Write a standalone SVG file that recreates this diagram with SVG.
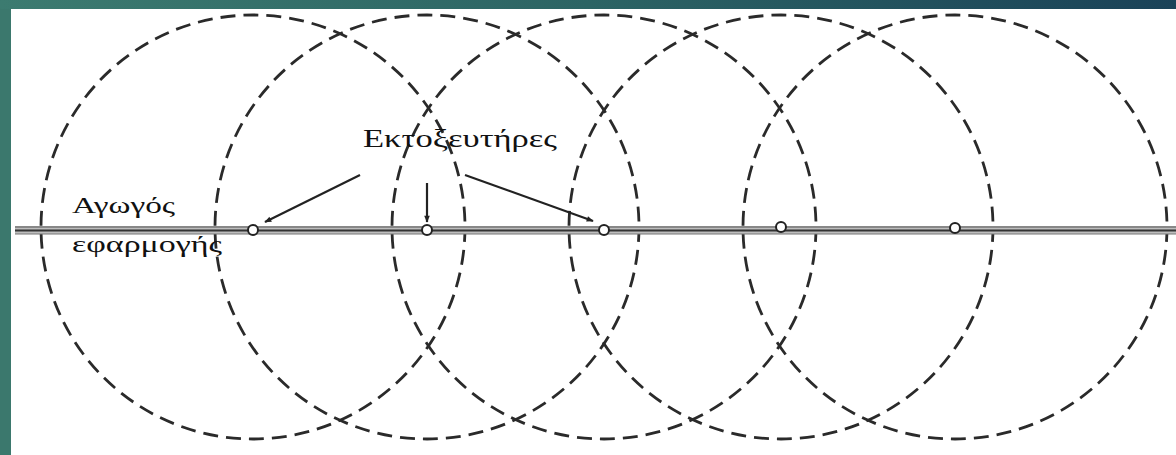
<svg xmlns="http://www.w3.org/2000/svg" width="1176" height="455" viewBox="0 0 1176 455">
<defs>
<linearGradient id="topg" x1="0" y1="0" x2="1" y2="0">
<stop offset="0" stop-color="#3c7b70"/>
<stop offset="0.5" stop-color="#2c6464"/>
<stop offset="1" stop-color="#1a4258"/>
</linearGradient>
<marker id="ah" viewBox="0 0 10 10" refX="9" refY="5" markerWidth="8" markerHeight="7" orient="auto" markerUnits="userSpaceOnUse">
<path d="M0,1 L10,5 L0,9 Z" fill="#222"/>
</marker>
<style>
.zone{fill:none;stroke:#2a2a2a;stroke-width:2.8;stroke-dasharray:15 8}
.noz{fill:#fff;stroke:#222;stroke-width:2}
.arr{stroke:#222;stroke-width:2.2;fill:none;marker-end:url(#ah)}
</style>
</defs>
<rect x="0" y="0" width="1176" height="455" fill="#ffffff"/>
<rect x="0" y="0" width="11" height="455" fill="#3b786d"/>
<rect x="0" y="0" width="1176" height="9" fill="url(#topg)"/>

<g id="zones">
<circle class="zone" cx="253" cy="227" r="212"/>
<circle class="zone" cx="427" cy="227" r="212"/>
<circle class="zone" cx="604" cy="227" r="212"/>
<circle class="zone" cx="781" cy="227" r="212"/>
<circle class="zone" cx="955" cy="227" r="212"/>
</g>

<g id="pipe">
<rect x="15" y="226" width="1161" height="8" fill="#bdbdbd"/>
<line x1="15" y1="227" x2="1176" y2="227" stroke="#555" stroke-width="1.2"/>
<line x1="15" y1="230.5" x2="1176" y2="230.5" stroke="#333" stroke-width="2"/>
<line x1="15" y1="234" x2="1176" y2="234" stroke="#777" stroke-width="1"/>
</g>

<g id="nozzles">
<circle class="noz" cx="253" cy="230" r="5"/>
<circle class="noz" cx="427" cy="230" r="5"/>
<circle class="noz" cx="604" cy="230" r="5"/>
<circle class="noz" cx="781" cy="227" r="5"/>
<circle class="noz" cx="955" cy="228" r="5"/>
</g>

<g id="connectors">
<line class="arr" x1="360" y1="175" x2="265" y2="222"/>
<line class="arr" x1="427" y1="183" x2="427" y2="222"/>
<line class="arr" x1="465" y1="175" x2="593" y2="221"/>
</g>

<g id="label-ektoxeutires">
<text x="363" y="147" font-family="'Liberation Serif', 'DejaVu Serif', serif" font-size="26" fill="#111" textLength="194" lengthAdjust="spacingAndGlyphs">Εκτοξευτήρες</text>
</g>
<g id="label-agogos">
<text x="72" y="213" font-family="'Liberation Serif', 'DejaVu Serif', serif" font-size="24" fill="#111" textLength="103" lengthAdjust="spacingAndGlyphs">Αγωγός</text>
<text x="72" y="252" font-family="'Liberation Serif', 'DejaVu Serif', serif" font-size="24" fill="#111" textLength="150" lengthAdjust="spacingAndGlyphs">εφαρμογής</text>
</g>
</svg>
